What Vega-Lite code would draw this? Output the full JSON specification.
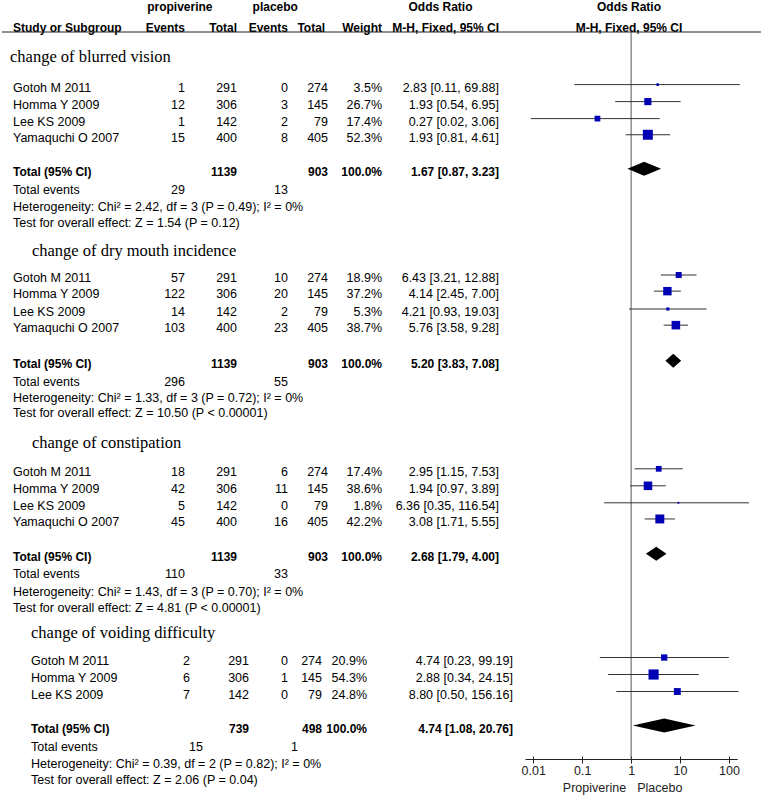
{
  "$schema": "https://vega.github.io/schema/vega-lite/v6.json",
  "width": 761,
  "height": 796,
  "autosize": {"type": "none"},
  "padding": 0,
  "config": {"view": {"stroke": null}},
  "datasets": {
    "cells": [
      {"line": -2.94, "col": 0.97, "txt": "propiverine", "role": "bcenter"},
      {"line": -2.94, "col": 2.75, "txt": "placebo", "role": "bcenter"},
      {"line": -2.94, "col": 5.5, "txt": "Odds Ratio", "role": "bcenter"},
      {"line": -2.94, "col": 7, "txt": "Odds Ratio", "role": "bcenter"},
      {"line": -1.7, "col": 0, "txt": "Study or Subgroup", "role": "bname"},
      {"line": -1.7, "col": 1, "txt": "Events", "role": "bnum"},
      {"line": -1.7, "col": 2, "txt": "Total", "role": "bnum"},
      {"line": -1.7, "col": 3, "txt": "Events", "role": "bnum"},
      {"line": -1.7, "col": 3.93, "txt": "Total", "role": "bnum"},
      {"line": -1.7, "col": 5, "txt": "Weight", "role": "bnum"},
      {"line": -1.7, "col": 6, "txt": "M-H, Fixed, 95% CI", "role": "bnum"},
      {"line": -1.7, "col": 7, "txt": "M-H, Fixed, 95% CI", "role": "bcenter"},

      {"line": 0, "col": -0.23, "txt": "change of blurred vision", "role": "group"},
      {"line": 1.8, "col": 0, "txt": "Gotoh M 2011", "role": "name"},
      {"line": 1.8, "col": 1, "txt": "1", "role": "num"},
      {"line": 1.8, "col": 2, "txt": "291", "role": "num"},
      {"line": 1.8, "col": 3, "txt": "0", "role": "num"},
      {"line": 1.8, "col": 4, "txt": "274", "role": "num"},
      {"line": 1.8, "col": 5, "txt": "3.5%", "role": "num"},
      {"line": 1.8, "col": 6, "txt": "2.83 [0.11, 69.88]", "role": "num"},
      {"line": 2.8, "col": 0, "txt": "Homma Y 2009", "role": "name"},
      {"line": 2.8, "col": 1, "txt": "12", "role": "num"},
      {"line": 2.8, "col": 2, "txt": "306", "role": "num"},
      {"line": 2.8, "col": 3, "txt": "3", "role": "num"},
      {"line": 2.8, "col": 4, "txt": "145", "role": "num"},
      {"line": 2.8, "col": 5, "txt": "26.7%", "role": "num"},
      {"line": 2.8, "col": 6, "txt": "1.93 [0.54, 6.95]", "role": "num"},
      {"line": 3.8, "col": 0, "txt": "Lee KS 2009", "role": "name"},
      {"line": 3.8, "col": 1, "txt": "1", "role": "num"},
      {"line": 3.8, "col": 2, "txt": "142", "role": "num"},
      {"line": 3.8, "col": 3, "txt": "2", "role": "num"},
      {"line": 3.8, "col": 4, "txt": "79", "role": "num"},
      {"line": 3.8, "col": 5, "txt": "17.4%", "role": "num"},
      {"line": 3.8, "col": 6, "txt": "0.27 [0.02, 3.06]", "role": "num"},
      {"line": 4.75, "col": 0, "txt": "Yamaquchi O 2007", "role": "name"},
      {"line": 4.75, "col": 1, "txt": "15", "role": "num"},
      {"line": 4.75, "col": 2, "txt": "400", "role": "num"},
      {"line": 4.75, "col": 3, "txt": "8", "role": "num"},
      {"line": 4.75, "col": 4, "txt": "405", "role": "num"},
      {"line": 4.75, "col": 5, "txt": "52.3%", "role": "num"},
      {"line": 4.75, "col": 6, "txt": "1.93 [0.81, 4.61]", "role": "num"},
      {"line": 6.75, "col": 0, "txt": "Total (95% CI)", "role": "bname"},
      {"line": 6.75, "col": 2, "txt": "1139", "role": "bnum"},
      {"line": 6.75, "col": 4, "txt": "903", "role": "bnum"},
      {"line": 6.75, "col": 5, "txt": "100.0%", "role": "bnum"},
      {"line": 6.75, "col": 6, "txt": "1.67 [0.87, 3.23]", "role": "bnum"},
      {"line": 7.8, "col": 0, "txt": "Total events", "role": "name"},
      {"line": 7.8, "col": 1, "txt": "29", "role": "num"},
      {"line": 7.8, "col": 3, "txt": "13", "role": "num"},
      {"line": 8.8, "col": 0, "txt": "Heterogeneity: Chi² = 2.42, df = 3 (P = 0.49); I² = 0%", "role": "name"},
      {"line": 9.75, "col": 0, "txt": "Test for overall effect: Z = 1.54 (P = 0.12)", "role": "name"},

      {"line": 11.4, "col": 0.11, "txt": "change of dry mouth incidence", "role": "group"},
      {"line": 13.0, "col": 0, "txt": "Gotoh M 2011", "role": "name"},
      {"line": 13.0, "col": 1, "txt": "57", "role": "num"},
      {"line": 13.0, "col": 2, "txt": "291", "role": "num"},
      {"line": 13.0, "col": 3, "txt": "10", "role": "num"},
      {"line": 13.0, "col": 4, "txt": "274", "role": "num"},
      {"line": 13.0, "col": 5, "txt": "18.9%", "role": "num"},
      {"line": 13.0, "col": 6, "txt": "6.43 [3.21, 12.88]", "role": "num"},
      {"line": 13.95, "col": 0, "txt": "Homma Y 2009", "role": "name"},
      {"line": 13.95, "col": 1, "txt": "122", "role": "num"},
      {"line": 13.95, "col": 2, "txt": "306", "role": "num"},
      {"line": 13.95, "col": 3, "txt": "20", "role": "num"},
      {"line": 13.95, "col": 4, "txt": "145", "role": "num"},
      {"line": 13.95, "col": 5, "txt": "37.2%", "role": "num"},
      {"line": 13.95, "col": 6, "txt": "4.14 [2.45, 7.00]", "role": "num"},
      {"line": 15.0, "col": 0, "txt": "Lee KS 2009", "role": "name"},
      {"line": 15.0, "col": 1, "txt": "14", "role": "num"},
      {"line": 15.0, "col": 2, "txt": "142", "role": "num"},
      {"line": 15.0, "col": 3, "txt": "2", "role": "num"},
      {"line": 15.0, "col": 4, "txt": "79", "role": "num"},
      {"line": 15.0, "col": 5, "txt": "5.3%", "role": "num"},
      {"line": 15.0, "col": 6, "txt": "4.21 [0.93, 19.03]", "role": "num"},
      {"line": 15.95, "col": 0, "txt": "Yamaquchi O 2007", "role": "name"},
      {"line": 15.95, "col": 1, "txt": "103", "role": "num"},
      {"line": 15.95, "col": 2, "txt": "400", "role": "num"},
      {"line": 15.95, "col": 3, "txt": "23", "role": "num"},
      {"line": 15.95, "col": 4, "txt": "405", "role": "num"},
      {"line": 15.95, "col": 5, "txt": "38.7%", "role": "num"},
      {"line": 15.95, "col": 6, "txt": "5.76 [3.58, 9.28]", "role": "num"},
      {"line": 18.05, "col": 0, "txt": "Total (95% CI)", "role": "bname"},
      {"line": 18.05, "col": 2, "txt": "1139", "role": "bnum"},
      {"line": 18.05, "col": 4, "txt": "903", "role": "bnum"},
      {"line": 18.05, "col": 5, "txt": "100.0%", "role": "bnum"},
      {"line": 18.05, "col": 6, "txt": "5.20 [3.83, 7.08]", "role": "bnum"},
      {"line": 19.1, "col": 0, "txt": "Total events", "role": "name"},
      {"line": 19.1, "col": 1, "txt": "296", "role": "num"},
      {"line": 19.1, "col": 3, "txt": "55", "role": "num"},
      {"line": 20.05, "col": 0, "txt": "Heterogeneity: Chi² = 1.33, df = 3 (P = 0.72); I² = 0%", "role": "name"},
      {"line": 20.95, "col": 0, "txt": "Test for overall effect: Z = 10.50 (P < 0.00001)", "role": "name"},

      {"line": 22.7, "col": 0.11, "txt": "change of constipation", "role": "group"},
      {"line": 24.4, "col": 0, "txt": "Gotoh M 2011", "role": "name"},
      {"line": 24.4, "col": 1, "txt": "18", "role": "num"},
      {"line": 24.4, "col": 2, "txt": "291", "role": "num"},
      {"line": 24.4, "col": 3, "txt": "6", "role": "num"},
      {"line": 24.4, "col": 4, "txt": "274", "role": "num"},
      {"line": 24.4, "col": 5, "txt": "17.4%", "role": "num"},
      {"line": 24.4, "col": 6, "txt": "2.95 [1.15, 7.53]", "role": "num"},
      {"line": 25.4, "col": 0, "txt": "Homma Y 2009", "role": "name"},
      {"line": 25.4, "col": 1, "txt": "42", "role": "num"},
      {"line": 25.4, "col": 2, "txt": "306", "role": "num"},
      {"line": 25.4, "col": 3, "txt": "11", "role": "num"},
      {"line": 25.4, "col": 4, "txt": "145", "role": "num"},
      {"line": 25.4, "col": 5, "txt": "38.6%", "role": "num"},
      {"line": 25.4, "col": 6, "txt": "1.94 [0.97, 3.89]", "role": "num"},
      {"line": 26.4, "col": 0, "txt": "Lee KS 2009", "role": "name"},
      {"line": 26.4, "col": 1, "txt": "5", "role": "num"},
      {"line": 26.4, "col": 2, "txt": "142", "role": "num"},
      {"line": 26.4, "col": 3, "txt": "0", "role": "num"},
      {"line": 26.4, "col": 4, "txt": "79", "role": "num"},
      {"line": 26.4, "col": 5, "txt": "1.8%", "role": "num"},
      {"line": 26.4, "col": 6, "txt": "6.36 [0.35, 116.54]", "role": "num"},
      {"line": 27.35, "col": 0, "txt": "Yamaquchi O 2007", "role": "name"},
      {"line": 27.35, "col": 1, "txt": "45", "role": "num"},
      {"line": 27.35, "col": 2, "txt": "400", "role": "num"},
      {"line": 27.35, "col": 3, "txt": "16", "role": "num"},
      {"line": 27.35, "col": 4, "txt": "405", "role": "num"},
      {"line": 27.35, "col": 5, "txt": "42.2%", "role": "num"},
      {"line": 27.35, "col": 6, "txt": "3.08 [1.71, 5.55]", "role": "num"},
      {"line": 29.4, "col": 0, "txt": "Total (95% CI)", "role": "bname"},
      {"line": 29.4, "col": 2, "txt": "1139", "role": "bnum"},
      {"line": 29.4, "col": 4, "txt": "903", "role": "bnum"},
      {"line": 29.4, "col": 5, "txt": "100.0%", "role": "bnum"},
      {"line": 29.4, "col": 6, "txt": "2.68 [1.79, 4.00]", "role": "bnum"},
      {"line": 30.4, "col": 0, "txt": "Total events", "role": "name"},
      {"line": 30.4, "col": 1, "txt": "110", "role": "num"},
      {"line": 30.4, "col": 3, "txt": "33", "role": "num"},
      {"line": 31.45, "col": 0, "txt": "Heterogeneity: Chi² = 1.43, df = 3 (P = 0.70); I² = 0%", "role": "name"},
      {"line": 32.4, "col": 0, "txt": "Test for overall effect: Z = 4.81 (P < 0.00001)", "role": "name"},

      {"line": 33.9, "col": 10, "txt": "change of voiding difficulty", "role": "group"},
      {"line": 35.5, "col": 10, "txt": "Gotoh M 2011", "role": "name"},
      {"line": 35.5, "col": 11, "txt": "2", "role": "num"},
      {"line": 35.5, "col": 12, "txt": "291", "role": "num"},
      {"line": 35.5, "col": 13, "txt": "0", "role": "num"},
      {"line": 35.5, "col": 14, "txt": "274", "role": "num"},
      {"line": 35.5, "col": 15, "txt": "20.9%", "role": "num"},
      {"line": 35.5, "col": 16, "txt": "4.74 [0.23, 99.19]", "role": "num"},
      {"line": 36.5, "col": 10, "txt": "Homma Y 2009", "role": "name"},
      {"line": 36.5, "col": 11, "txt": "6", "role": "num"},
      {"line": 36.5, "col": 12, "txt": "306", "role": "num"},
      {"line": 36.5, "col": 13, "txt": "1", "role": "num"},
      {"line": 36.5, "col": 14, "txt": "145", "role": "num"},
      {"line": 36.5, "col": 15, "txt": "54.3%", "role": "num"},
      {"line": 36.5, "col": 16, "txt": "2.88 [0.34, 24.15]", "role": "num"},
      {"line": 37.5, "col": 10, "txt": "Lee KS 2009", "role": "name"},
      {"line": 37.5, "col": 11, "txt": "7", "role": "num"},
      {"line": 37.5, "col": 12, "txt": "142", "role": "num"},
      {"line": 37.5, "col": 13, "txt": "0", "role": "num"},
      {"line": 37.5, "col": 14, "txt": "79", "role": "num"},
      {"line": 37.5, "col": 15, "txt": "24.8%", "role": "num"},
      {"line": 37.5, "col": 16, "txt": "8.80 [0.50, 156.16]", "role": "num"},
      {"line": 39.5, "col": 10, "txt": "Total (95% CI)", "role": "bname"},
      {"line": 39.5, "col": 12, "txt": "739", "role": "bnum"},
      {"line": 39.5, "col": 14, "txt": "498", "role": "bnum"},
      {"line": 39.5, "col": 15, "txt": "100.0%", "role": "bnum"},
      {"line": 39.5, "col": 16, "txt": "4.74 [1.08, 20.76]", "role": "bnum"},
      {"line": 40.6, "col": 10, "txt": "Total events", "role": "name"},
      {"line": 40.6, "col": 11.22, "txt": "15", "role": "num"},
      {"line": 40.6, "col": 13.29, "txt": "1", "role": "num"},
      {"line": 41.6, "col": 10, "txt": "Heterogeneity: Chi² = 0.39, df = 2 (P = 0.82); I² = 0%", "role": "name"},
      {"line": 42.55, "col": 10, "txt": "Test for overall effect: Z = 2.06 (P = 0.04)", "role": "name"}
    ],
    "studies": [
      {"grp": 1, "study": "Gotoh M 2011", "line": 1.8, "or": 2.83, "lo": 0.11, "hi": 69.88, "w": 3.5},
      {"grp": 1, "study": "Homma Y 2009", "line": 2.8, "or": 1.93, "lo": 0.54, "hi": 6.95, "w": 26.7},
      {"grp": 1, "study": "Lee KS 2009", "line": 3.8, "or": 0.27, "lo": 0.02, "hi": 3.06, "w": 17.4},
      {"grp": 1, "study": "Yamaquchi O 2007", "line": 4.75, "or": 1.93, "lo": 0.81, "hi": 4.61, "w": 52.3},
      {"grp": 2, "study": "Gotoh M 2011", "line": 13.0, "or": 6.43, "lo": 3.21, "hi": 12.88, "w": 18.9},
      {"grp": 2, "study": "Homma Y 2009", "line": 13.95, "or": 4.14, "lo": 2.45, "hi": 7.00, "w": 37.2},
      {"grp": 2, "study": "Lee KS 2009", "line": 15.0, "or": 4.21, "lo": 0.93, "hi": 19.03, "w": 5.3},
      {"grp": 2, "study": "Yamaquchi O 2007", "line": 15.95, "or": 5.76, "lo": 3.58, "hi": 9.28, "w": 38.7},
      {"grp": 3, "study": "Gotoh M 2011", "line": 24.4, "or": 2.95, "lo": 1.15, "hi": 7.53, "w": 17.4},
      {"grp": 3, "study": "Homma Y 2009", "line": 25.4, "or": 1.94, "lo": 0.97, "hi": 3.89, "w": 38.6},
      {"grp": 3, "study": "Lee KS 2009", "line": 26.4, "or": 6.36, "lo": 0.35, "hi": 116.54, "w": 1.8},
      {"grp": 3, "study": "Yamaquchi O 2007", "line": 27.35, "or": 3.08, "lo": 1.71, "hi": 5.55, "w": 42.2},
      {"grp": 4, "study": "Gotoh M 2011", "line": 35.5, "or": 4.74, "lo": 0.23, "hi": 99.19, "w": 20.9},
      {"grp": 4, "study": "Homma Y 2009", "line": 36.5, "or": 2.88, "lo": 0.34, "hi": 24.15, "w": 54.3},
      {"grp": 4, "study": "Lee KS 2009", "line": 37.5, "or": 8.80, "lo": 0.50, "hi": 156.16, "w": 24.8}
    ],
    "totals": [
      {"grp": 1, "line": 6.75, "or": 1.67, "lo": 0.87, "hi": 3.23},
      {"grp": 2, "line": 18.05, "or": 5.20, "lo": 3.83, "hi": 7.08},
      {"grp": 3, "line": 29.4, "or": 2.68, "lo": 1.79, "hi": 4.00},
      {"grp": 4, "line": 39.5, "or": 4.74, "lo": 1.08, "hi": 20.76}
    ]
  },
  "layer": [
    {
      "data": {"name": "cells"},
      "layer": [
        {
          "transform": [{"filter": "datum.role === 'name'"}],
          "mark": {"type": "text", "align": "left", "baseline": "middle", "font": "Liberation Sans", "fontSize": 12.5, "color": "#000"},
          "encoding": {
            "x": {"field": "col", "type": "quantitative", "axis": null, "scale": {"type": "linear", "domain": [-1, 0, 1, 2, 3, 4, 5, 6, 7, 8, 10, 11, 12, 13, 14, 15, 16], "range": [0, 13, 185, 237, 288, 328, 382, 499, 629, 761, 31, 190, 249, 288, 322, 367, 513], "nice": false, "zero": false}},
            "y": {"field": "line", "type": "quantitative", "axis": null, "scale": {"domain": [-3.353, 43.47], "range": [0, 796], "nice": false, "zero": false}},
            "text": {"field": "txt"}
          }
        },
        {
          "transform": [{"filter": "datum.role === 'num'"}],
          "mark": {"type": "text", "align": "right", "baseline": "middle", "font": "Liberation Sans", "fontSize": 12.5, "color": "#000"},
          "encoding": {
            "x": {"field": "col", "type": "quantitative", "axis": null},
            "y": {"field": "line", "type": "quantitative", "axis": null},
            "text": {"field": "txt"}
          }
        },
        {
          "transform": [{"filter": "datum.role === 'bname'"}],
          "mark": {"type": "text", "align": "left", "baseline": "middle", "font": "Liberation Sans", "fontSize": 12, "fontWeight": "bold", "color": "#000"},
          "encoding": {
            "x": {"field": "col", "type": "quantitative", "axis": null},
            "y": {"field": "line", "type": "quantitative", "axis": null},
            "text": {"field": "txt"}
          }
        },
        {
          "transform": [{"filter": "datum.role === 'bnum'"}],
          "mark": {"type": "text", "align": "right", "baseline": "middle", "font": "Liberation Sans", "fontSize": 12, "fontWeight": "bold", "color": "#000"},
          "encoding": {
            "x": {"field": "col", "type": "quantitative", "axis": null},
            "y": {"field": "line", "type": "quantitative", "axis": null},
            "text": {"field": "txt"}
          }
        },
        {
          "transform": [{"filter": "datum.role === 'bcenter'"}],
          "mark": {"type": "text", "align": "center", "baseline": "middle", "font": "Liberation Sans", "fontSize": 12, "fontWeight": "bold", "color": "#000"},
          "encoding": {
            "x": {"field": "col", "type": "quantitative", "axis": null},
            "y": {"field": "line", "type": "quantitative", "axis": null},
            "text": {"field": "txt"}
          }
        },
        {
          "transform": [{"filter": "datum.role === 'group'"}],
          "mark": {"type": "text", "align": "left", "baseline": "middle", "font": "Liberation Serif", "fontSize": 16.5, "color": "#000"},
          "encoding": {
            "x": {"field": "col", "type": "quantitative", "axis": null},
            "y": {"field": "line", "type": "quantitative", "axis": null},
            "text": {"field": "txt"}
          }
        },
        {
          "data": {"values": [{}]},
          "mark": {"type": "rule", "color": "#222", "strokeWidth": 1},
          "encoding": {
            "x": {"datum": -0.85, "type": "quantitative", "axis": null},
            "x2": {"datum": 8},
            "y": {"datum": -1.47, "type": "quantitative", "axis": null}
          }
        }
      ]
    },
    {
      "data": {"values": [{}]},
      "mark": {"type": "rule", "color": "#555", "strokeWidth": 1},
      "encoding": {
        "x": {"datum": 1, "type": "quantitative", "scale": {"type": "log", "domain": [0.0068, 147], "range": [525, 737.2], "nice": false},
          "axis": {"orient": "top", "offset": -759, "values": [0.01, 0.1, 1, 10, 100], "labels": false, "domain": false, "ticks": true, "tickSize": 3, "tickColor": "#222", "grid": false, "title": null}},
        "y": {"datum": -1.47, "type": "quantitative", "axis": null},
        "y2": {"datum": 41.29}
      }
    },
    {
      "layer": [
        {
          "data": {"name": "studies"},
          "transform": [{"filter": "datum.grp < 4"}],
          "mark": {"type": "rule", "color": "#333", "strokeWidth": 1, "yOffset": -3},
          "encoding": {
            "x": {"field": "lo", "type": "quantitative", "axis": null, "scale": {"type": "log", "domain": [0.01, 100], "range": [513, 749], "nice": false, "clamp": true}},
            "x2": {"field": "hi"},
            "y": {"field": "line", "type": "quantitative", "axis": null}
          }
        },
        {
          "data": {"name": "studies"},
          "transform": [{"filter": "datum.grp < 4"}],
          "mark": {"type": "point", "shape": "square", "filled": true, "opacity": 1, "color": "#0000b4", "yOffset": -3},
          "encoding": {
            "x": {"field": "or", "type": "quantitative", "axis": null},
            "y": {"field": "line", "type": "quantitative", "axis": null},
            "size": {"field": "w", "type": "quantitative", "legend": null, "scale": {"type": "linear", "domain": [0, 100], "range": [0, 190], "zero": true}}
          }
        },
        {
          "data": {"name": "totals"},
          "transform": [
            {"filter": "datum.grp < 4"},
            {"fold": ["lo", "or", "hi"], "as": ["vertex", "value"]}
          ],
          "mark": {"type": "area", "color": "#000", "opacity": 1, "orient": "vertical",
            "yOffset": {"expr": "datum.vertex === 'or' ? -10 : -3"},
            "y2Offset": {"expr": "datum.vertex === 'or' ? 4 : -3"}},
          "encoding": {
            "x": {"field": "value", "type": "quantitative", "axis": null, "stack": null},
            "y": {"field": "line", "type": "quantitative", "axis": null, "stack": null},
            "y2": {"field": "line"},
            "detail": {"field": "grp", "type": "nominal"}
          }
        }
      ],
      "resolve": {"scale": {"size": "independent"}}
    },
    {
      "layer": [
        {
          "data": {"name": "studies"},
          "transform": [{"filter": "datum.grp === 4"}],
          "mark": {"type": "rule", "color": "#333", "strokeWidth": 1, "yOffset": -3},
          "encoding": {
            "x": {"field": "lo", "type": "quantitative", "scale": {"type": "log", "domain": [0.0068, 147], "range": [525, 737.2], "nice": false},
              "axis": {"orient": "bottom", "offset": -37, "values": [0.01, 0.1, 1, 10, 100], "format": "~g", "tickSize": 4, "labelPadding": 1, "labelFont": "Liberation Sans", "labelFontSize": 12.5, "labelColor": "#222", "labelFlush": false, "labelOverlap": false, "domainColor": "#222", "tickColor": "#222", "grid": false, "title": null}},
            "x2": {"field": "hi"},
            "y": {"field": "line", "type": "quantitative", "axis": null}
          }
        },
        {
          "data": {"name": "studies"},
          "transform": [{"filter": "datum.grp === 4"}],
          "mark": {"type": "point", "shape": "square", "filled": true, "opacity": 1, "color": "#0000b4", "yOffset": -3},
          "encoding": {
            "x": {"field": "or", "type": "quantitative"},
            "y": {"field": "line", "type": "quantitative", "axis": null},
            "size": {"field": "w", "type": "quantitative", "legend": null, "scale": {"type": "linear", "domain": [0, 100], "range": [0, 190], "zero": true}}
          }
        },
        {
          "data": {"name": "totals"},
          "transform": [
            {"filter": "datum.grp === 4"},
            {"fold": ["lo", "or", "hi"], "as": ["vertex", "value"]}
          ],
          "mark": {"type": "area", "color": "#000", "opacity": 1, "orient": "vertical",
            "yOffset": {"expr": "datum.vertex === 'or' ? -10 : -3"},
            "y2Offset": {"expr": "datum.vertex === 'or' ? 4 : -3"}},
          "encoding": {
            "x": {"field": "value", "type": "quantitative", "stack": null},
            "y": {"field": "line", "type": "quantitative", "axis": null, "stack": null},
            "y2": {"field": "line"},
            "detail": {"field": "grp", "type": "nominal"}
          }
        },
        {
          "data": {"values": [{}]},
          "mark": {"type": "text", "text": "Propiverine", "align": "right", "baseline": "middle", "font": "Liberation Sans", "fontSize": 12.5, "color": "#222"},
          "encoding": {
            "x": {"datum": 0.79, "type": "quantitative"},
            "y": {"datum": 43.0, "type": "quantitative", "axis": null}
          }
        },
        {
          "data": {"values": [{}]},
          "mark": {"type": "text", "text": "Placebo", "align": "left", "baseline": "middle", "font": "Liberation Sans", "fontSize": 12.5, "color": "#222"},
          "encoding": {
            "x": {"datum": 1.33, "type": "quantitative"},
            "y": {"datum": 43.0, "type": "quantitative", "axis": null}
          }
        }
      ],
      "resolve": {"scale": {"size": "independent"}}
    }
  ],
  "resolve": {"scale": {"x": "independent", "size": "independent"}}
}
